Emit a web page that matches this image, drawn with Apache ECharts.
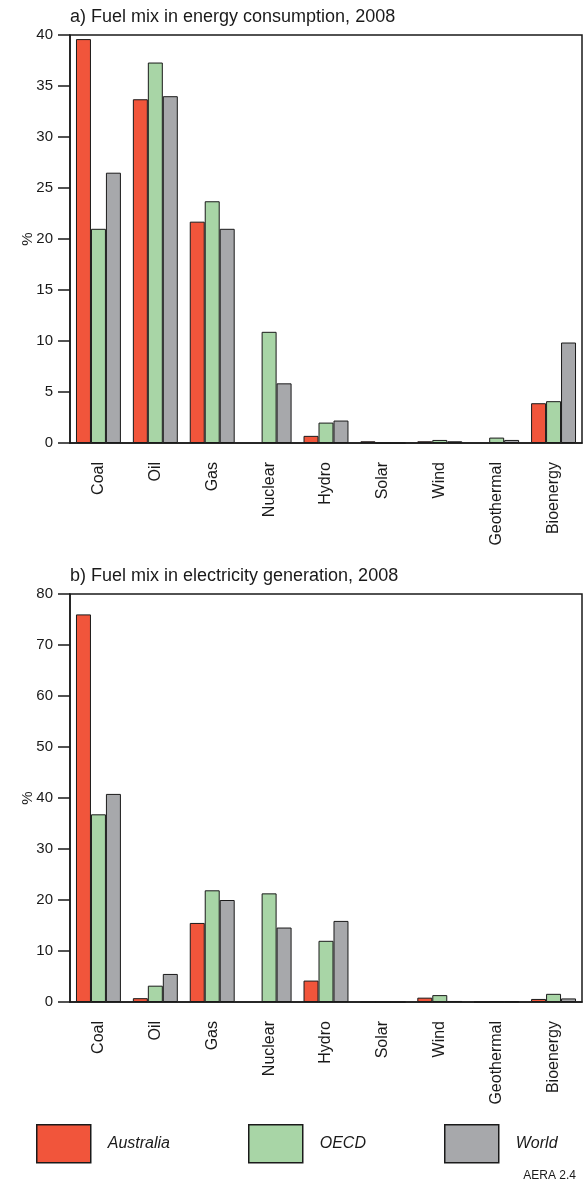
<!DOCTYPE html>
<html>
<head>
<meta charset="utf-8">
<script src="https://cdn.jsdelivr.net/npm/echarts@6/dist/echarts.min.js"></script>
<style>
  html, body { margin: 0; padding: 0; background: #fff; }
  #chart { width: 583px; height: 1180px; }
</style>
</head>
<body>
<div id="chart"></div>
<script>
// categories and values (percent)
var fuels = ['Coal', 'Oil', 'Gas', 'Nuclear', 'Hydro', 'Solar', 'Wind', 'Geothermal', 'Bioenergy']
var seriesNames = ['Australia', 'OECD', 'World']

// a) energy consumption
var energyAustralia = [39.6, 33.7, 21.7, '-', 0.7, 0.17, 0.17, '-', 3.9]
var energyOECD = [21.0, 37.3, 23.7, 10.9, 2.0, 0, 0.3, 0.53, 4.1]
var energyWorld = [26.5, 34.0, 21.0, 5.85, 2.2, 0, 0.17, 0.3, 9.85]

// b) electricity generation
var elecAustralia = [76.0, 0.75, 15.5, '-', 4.2, 0, 0.85, 0, 0.6]
var elecOECD = [36.8, 3.2, 21.9, 21.3, 12.0, 0, 1.35, 0.1, 1.6]
var elecWorld = [40.8, 5.5, 20.0, 14.6, 15.9, 0, 0.2, 0.1, 0.7]

var colors = ['#f1553b', '#a8d5a6', '#a7a8ab']
var ink = '#1a1a1a'
var font = 'Liberation Sans, Arial, sans-serif'

var myChart = echarts.init(document.getElementById('chart'))

function xAxisFor(gridIndex) {
  return {
    type: 'category',
    gridIndex: gridIndex,
    data: fuels,
    axisLine: { lineStyle: { color: ink, width: 1.5 } },
    axisTick: { alignWithLabel: true, length: 12, lineStyle: { color: ink, width: 1.5 } },
    axisLabel: { rotate: 90, margin: 19, color: ink, fontSize: 16, fontFamily: font }
  }
}

function yAxisFor(gridIndex, max, interval) {
  return {
    type: 'value',
    gridIndex: gridIndex,
    min: 0,
    max: max,
    interval: interval,
    name: '%',
    nameLocation: 'middle',
    nameGap: 35,
    nameMoveOverlap: false,
    nameTextStyle: { color: ink, fontSize: 15, fontFamily: font },
    splitLine: { show: false },
    axisLine: { show: true, lineStyle: { color: ink, width: 1.5 } },
    axisTick: { show: true, length: 12, lineStyle: { color: ink, width: 1.5 } },
    axisLabel: { margin: 17, color: ink, fontSize: 15, fontFamily: font }
  }
}

function barSeries(name, data, idx, axisIndex) {
  return {
    name: name,
    type: 'bar',
    xAxisIndex: axisIndex,
    yAxisIndex: axisIndex,
    data: data,
    barGap: '0%',
    barCategoryGap: '21%',
    itemStyle: { color: colors[idx], borderColor: ink, borderWidth: 1 },
    emphasis: { disabled: true }
  }
}

function legendFor(name, left) {
  return {
    data: [name],
    left: left,
    top: 1119,
    icon: 'rect',
    itemWidth: 54,
    itemHeight: 38,
    itemStyle: { borderColor: ink, borderWidth: 1.5 },
    selectedMode: false,
    textStyle: { color: ink, fontSize: 16, fontStyle: 'italic', fontFamily: font, padding: [0, 0, 0, 12] }
  }
}

var option = {
  animation: false,
  backgroundColor: '#fff',
  title: [
    {
      text: 'a) Fuel mix in energy consumption, 2008',
      left: 65, top: 3,
      textStyle: { color: ink, fontSize: 18, fontWeight: 'normal', fontFamily: font }
    },
    {
      text: 'b) Fuel mix in electricity generation, 2008',
      left: 65, top: 562,
      textStyle: { color: ink, fontSize: 18, fontWeight: 'normal', fontFamily: font }
    },
    {
      text: 'AERA 2.4',
      right: 2, top: 1165,
      textStyle: { color: ink, fontSize: 12, fontWeight: 'normal', fontFamily: font }
    }
  ],
  legend: [
    legendFor('Australia', 31),
    legendFor('OECD', 243),
    legendFor('World', 439)
  ],
  grid: [
    { left: 70, right: 1, top: 35, height: 408, show: true, borderColor: ink, borderWidth: 1.5, backgroundColor: 'transparent' },
    { left: 70, right: 1, top: 594, height: 408, show: true, borderColor: ink, borderWidth: 1.5, backgroundColor: 'transparent' }
  ],
  xAxis: [xAxisFor(0), xAxisFor(1)],
  yAxis: [yAxisFor(0, 40, 5), yAxisFor(1, 80, 10)],
  series: [
    barSeries(seriesNames[0], energyAustralia, 0, 0),
    barSeries(seriesNames[1], energyOECD, 1, 0),
    barSeries(seriesNames[2], energyWorld, 2, 0),
    barSeries(seriesNames[0], elecAustralia, 0, 1),
    barSeries(seriesNames[1], elecOECD, 1, 1),
    barSeries(seriesNames[2], elecWorld, 2, 1)
  ]
}

myChart.setOption(option)
</script>
</body>
</html>
